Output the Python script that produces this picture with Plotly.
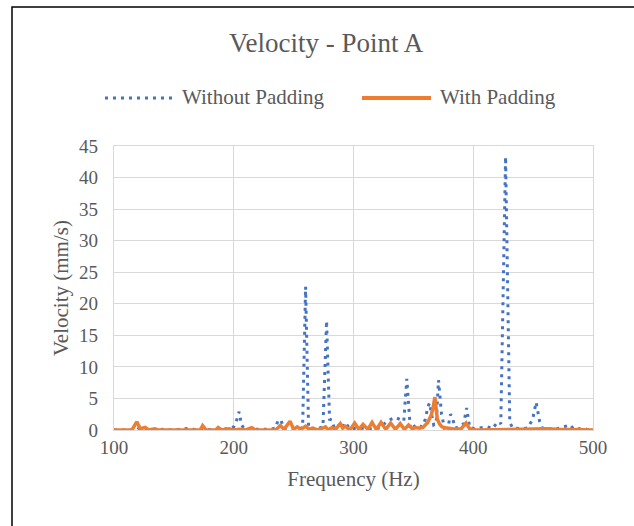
import plotly.graph_objects as go

# ---- data ----
freq_without = [100, 115, 119.5, 123, 140, 150, 164, 168, 185, 195, 200, 202.5, 204.5, 206.5, 209,
                220, 230, 235, 237, 239.5, 242, 250, 255, 257.5, 260, 262.5, 266, 270, 274.5, 277.5,
                280, 282, 284, 288, 290, 293, 297, 305, 315, 322, 328, 335, 342, 344.5, 347.5, 353,
                357, 360, 362, 363.5, 365, 367, 369, 371, 373.5, 376, 379, 381, 382.5, 385, 389.5,
                392, 394.5, 397, 401, 405, 412, 416, 420.5, 423, 427, 430.5, 433, 440, 445, 449.5,
                452.5, 455.5, 458, 470, 481, 484, 492, 496, 500]
vel_without = [0, 0, 0.4, 0, 0.1, 0, 0.3, 0, 0.1, 0.2, 0.5, 1.6, 2.9, 0.8, 0.1,
               0.1, 0.1, 0.3, 1.6, 1.5, 0.2, 0.1, 0.2, 0.4, 22.7, 0.3, 0.2, 0.2, 0.5, 17.3,
               1.7, 1.6, 0.3, 0.8, 0.2, 1.2, 0.2, 0.3, 0.2, 0.3, 1.4, 2.0, 1.4, 8.1, 0.1, 0.9,
               0.5, 1.7, 3.6, 4.3, 2.7, 0.8, 1.0, 7.9, 2.5, 0.3, 0.5, 2.5, 2.0, 0.3, 0.6,
               1.0, 3.5, 0.4, 0.2, 0.3, 0.5, 0.2, 1.3, 1.0, 43.3, 1.2, 0.3, 0.2, 0.3, 1.6,
               4.4, 1.3, 0.2, 0.2, 0.8, 0.1, 0.3, 0, 0]

freq_with = [100, 115, 119, 122, 126, 129, 134, 137, 150, 165, 172, 174, 177, 185, 187, 190, 196,
             200, 205, 210, 215, 218, 225, 235, 239, 242, 247, 250, 253, 256, 260, 263, 266, 270,
             273, 276.5, 279, 282, 285, 289, 291, 293, 297, 301, 304.5, 308, 312, 315.5, 319, 323,
             327, 331, 335, 339, 342.5, 346, 349, 352, 355, 358, 362, 365, 366.5, 368, 370, 372,
             374, 378, 384, 390, 394, 397, 402, 420, 440, 460, 470, 480, 500]
vel_with = [0, 0, 1.3, 0.2, 0.4, 0, 0.2, 0, 0, 0.05, 0, 0.7, 0, 0, 0.4, 0, 0.2,
            0, 0.1, 0, 0.35, 0, 0, 0, 0.7, 0.1, 1.4, 0.1, 0.5, 0.1, 0.6, 0.1, 0.3, 0,
            0.2, 0.5, 0, 0.4, 0.1, 1.0, 0.3, 0.6, 0, 1.1, 0.1, 0.9, 0.1, 1.2, 0.1, 1.2,
            0.1, 1.1, 0.1, 1.0, 0.1, 0.8, 0.2, 0.4, 0.3, 0.4, 1.2, 2.4, 3.6, 5.2, 1.7, 0.9,
            0.5, 0.3, 0.15, 0.2, 1.1, 0.2, 0, 0.1, 0.1, 0.2, 0.1, 0.1, 0]

x_ticks = [100, 200, 300, 400, 500]
y_ticks = [0, 5, 10, 15, 20, 25, 30, 35, 40, 45]

title_text = "Velocity - Point A"
series_names = ["Without Padding", "With Padding"]
x_title = "Frequency (Hz)"
y_title = "Velocity (mm/s)"

# ---- styling ----
W, H = 634, 526
L, R, T, B = 114, 41, 146, 96
BLUE = "#4472C4"
ORANGE = "#ED7D31"
TXT = "#595959"
GRID = "#D9D9D9"
FONT = "Liberation Serif"

pw = W - L - R
ph = H - T - B

def px_x(px):
    return (px - L) / pw

def px_y(py):
    return (H - B - py) / ph

fig = go.Figure()
fig.add_trace(go.Scatter(x=freq_without, y=vel_without, mode="lines", name=series_names[0],
                         line=dict(color=BLUE, width=3, dash="3px,5px"), showlegend=False))
fig.add_trace(go.Scatter(x=freq_with, y=vel_with, mode="lines", name=series_names[1],
                         line=dict(color=ORANGE, width=3.5), showlegend=False))

shapes = [
    # outer chart border (left and top visible)
    dict(type="rect", xref="paper", yref="paper", x0=px_x(12), x1=px_x(660), y0=px_y(560), y1=px_y(7),
         line=dict(color="black", width=1.5), layer="below"),
    # legend samples
    dict(type="line", xref="paper", yref="paper", x0=px_x(105), x1=px_x(173), y0=px_y(98), y1=px_y(98),
         line=dict(color=BLUE, width=3, dash="3px,5px")),
    dict(type="line", xref="paper", yref="paper", x0=px_x(362), x1=px_x(431), y0=px_y(98), y1=px_y(98),
         line=dict(color=ORANGE, width=4)),
]

annotations = [
    dict(text=title_text, xref="paper", yref="paper", x=px_x(326), y=px_y(43), showarrow=False,
         xanchor="center", yanchor="middle", font=dict(family=FONT, size=27, color=TXT)),
    dict(text=series_names[0], xref="paper", yref="paper", x=px_x(180), y=px_y(97), showarrow=False,
         xanchor="left", yanchor="middle", font=dict(family=FONT, size=21, color=TXT)),
    dict(text=series_names[1], xref="paper", yref="paper", x=px_x(438), y=px_y(97), showarrow=False,
         xanchor="left", yanchor="middle", font=dict(family=FONT, size=21, color=TXT)),
]

fig.update_layout(
    width=W, height=H,
    margin=dict(l=L, r=R, t=T, b=B, pad=0),
    paper_bgcolor="white", plot_bgcolor="white",
    shapes=shapes, annotations=annotations,
    showlegend=False,
    xaxis=dict(range=[100, 500], tickvals=x_ticks, ticktext=[str(v) for v in x_ticks],
               showgrid=True, gridcolor=GRID, gridwidth=1.3, zeroline=False,
               showline=True, linecolor=GRID, linewidth=1.3, mirror=True,
               ticks="", tickfont=dict(family=FONT, size=19, color=TXT),
               title=dict(text=x_title, font=dict(family=FONT, size=21, color=TXT), standoff=14)),
    yaxis=dict(range=[0, 45], tickvals=y_ticks, ticktext=[str(v) for v in y_ticks],
               showgrid=True, gridcolor=GRID, gridwidth=1.3, zeroline=False,
               showline=True, linecolor=GRID, linewidth=1.3, mirror=True,
               ticks="", tickfont=dict(family=FONT, size=19, color=TXT), ticklabelstandoff=11,
               title=dict(text=y_title, font=dict(family=FONT, size=21, color=TXT), standoff=4)),
)

fig.write_html("out.html")
